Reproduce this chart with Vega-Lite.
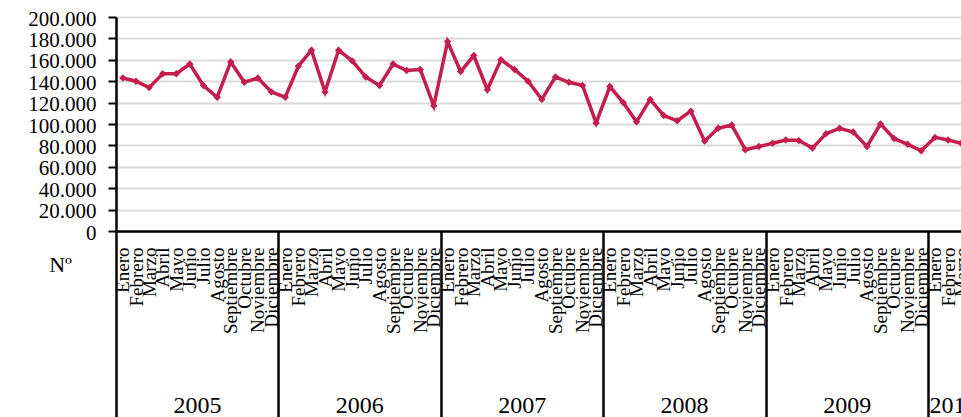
{
  "$schema": "https://vega.github.io/schema/vega-lite/v6.json",
  "width": 845,
  "height": 214,
  "autosize": {"type": "none"},
  "padding": {"left": 116, "top": 17, "right": 0, "bottom": 186},
  "background": "white",
  "config": {
    "view": {"stroke": null},
    "axis": {"labelFont": "Liberation Serif", "titleFont": "Liberation Serif", "labelColor": "#000", "titleColor": "#000"}
  },
  "data": {
    "format": {"parse": {"mes": "utc:'%Y-%m'"}},
    "values": [
      {"mes": "2005-01", "valor": 143000}, {"mes": "2005-02", "valor": 140000}, {"mes": "2005-03", "valor": 134000},
      {"mes": "2005-04", "valor": 147000}, {"mes": "2005-05", "valor": 147000}, {"mes": "2005-06", "valor": 156000},
      {"mes": "2005-07", "valor": 136000}, {"mes": "2005-08", "valor": 125000}, {"mes": "2005-09", "valor": 158000},
      {"mes": "2005-10", "valor": 139000}, {"mes": "2005-11", "valor": 143000}, {"mes": "2005-12", "valor": 130000},
      {"mes": "2006-01", "valor": 125000}, {"mes": "2006-02", "valor": 154000}, {"mes": "2006-03", "valor": 169000},
      {"mes": "2006-04", "valor": 130000}, {"mes": "2006-05", "valor": 169000}, {"mes": "2006-06", "valor": 159000},
      {"mes": "2006-07", "valor": 144000}, {"mes": "2006-08", "valor": 136000}, {"mes": "2006-09", "valor": 156000},
      {"mes": "2006-10", "valor": 150000}, {"mes": "2006-11", "valor": 151000}, {"mes": "2006-12", "valor": 117000},
      {"mes": "2007-01", "valor": 177000}, {"mes": "2007-02", "valor": 149000}, {"mes": "2007-03", "valor": 164000},
      {"mes": "2007-04", "valor": 132000}, {"mes": "2007-05", "valor": 160000}, {"mes": "2007-06", "valor": 151000},
      {"mes": "2007-07", "valor": 140000}, {"mes": "2007-08", "valor": 123000}, {"mes": "2007-09", "valor": 144000},
      {"mes": "2007-10", "valor": 139000}, {"mes": "2007-11", "valor": 136000}, {"mes": "2007-12", "valor": 101000},
      {"mes": "2008-01", "valor": 135000}, {"mes": "2008-02", "valor": 120000}, {"mes": "2008-03", "valor": 102000},
      {"mes": "2008-04", "valor": 123000}, {"mes": "2008-05", "valor": 108000}, {"mes": "2008-06", "valor": 103000},
      {"mes": "2008-07", "valor": 112000}, {"mes": "2008-08", "valor": 84000}, {"mes": "2008-09", "valor": 96000},
      {"mes": "2008-10", "valor": 99000}, {"mes": "2008-11", "valor": 76000}, {"mes": "2008-12", "valor": 79000},
      {"mes": "2009-01", "valor": 82000}, {"mes": "2009-02", "valor": 85000}, {"mes": "2009-03", "valor": 84500},
      {"mes": "2009-04", "valor": 77500}, {"mes": "2009-05", "valor": 91000}, {"mes": "2009-06", "valor": 96000},
      {"mes": "2009-07", "valor": 92500}, {"mes": "2009-08", "valor": 79000}, {"mes": "2009-09", "valor": 100000},
      {"mes": "2009-10", "valor": 86500}, {"mes": "2009-11", "valor": 81000}, {"mes": "2009-12", "valor": 75000},
      {"mes": "2010-01", "valor": 87500}, {"mes": "2010-02", "valor": 85000}, {"mes": "2010-03", "valor": 82000}
    ]
  },
  "layer": [
    {
      "mark": {"type": "line", "color": "#c41e4e", "strokeWidth": 3.5, "clip": true},
      "encoding": {
        "x": {
          "field": "mes", "timeUnit": "utcyearmonth", "type": "temporal", "bandPosition": 0.5,
          "scale": {"type": "utc", "domain": [{"year": 2005, "month": 1, "date": 1, "utc": true}, {"year": 2010, "month": 3, "date": 16, "utc": true}]},
          "axis": {
            "orient": "bottom", "title": null, "grid": false,
            "tickCount": {"interval": "month", "step": 1},
            "ticks": false, "tickSize": 0,
            "labelAngle": -90, "labelAlign": "right", "labelBaseline": "middle",
            "labelOffset": 6.77, "labelPadding": 16, "labelFontSize": 19,
            "labelOverlap": false, "labelFlush": false, "labelBound": false,
            "labelExpr": "['Enero','Febrero','Marzo','Abril','Mayo','Junio','Julio','Agosto','Septiembre','Octubre','Noviembre','Diciembre'][utcmonth(datum.value)]",
            "domain": true, "domainColor": "#000", "domainWidth": 2.5
          }
        },
        "y": {
          "field": "valor", "type": "quantitative",
          "scale": {"domain": [0, 200000]},
          "axis": {
            "title": "Nº", "titleAngle": 0, "titleX": -56, "titleY": 254,
            "titleAlign": "center", "titleBaseline": "alphabetic",
            "titleFontSize": 22, "titleFontWeight": "normal",
            "values": [0, 20000, 40000, 60000, 80000, 100000, 120000, 140000, 160000, 180000, 200000],
            "labelExpr": "replace(format(datum.value, ','), ',', '.')",
            "labelFontSize": 21, "labelPadding": 12, "labelOverlap": false, "labelOffset": 2,
            "tickSize": 8, "tickWidth": 2, "tickColor": "#000",
            "domainColor": "#000", "domainWidth": 2.5,
            "grid": true, "gridColor": "#d9d9d9", "gridWidth": 2
          }
        }
      }
    },
    {
      "mark": {"type": "point", "shape": "diamond", "filled": true, "color": "#c41e4e", "size": 55, "opacity": 1, "clip": true},
      "encoding": {
        "x": {
          "field": "mes", "timeUnit": "utcyearmonth", "type": "temporal", "bandPosition": 0.5,
          "scale": {"type": "utc", "domain": [{"year": 2005, "month": 1, "date": 1, "utc": true}, {"year": 2010, "month": 3, "date": 16, "utc": true}]},
          "axis": {
            "orient": "bottom", "title": null, "grid": false, "domain": false,
            "tickCount": {"interval": "year", "step": 1},
            "ticks": true, "tickSize": 200, "tickWidth": 2.5, "tickColor": "#000",
            "labelExpr": "'' + utcyear(datum.value)",
            "labelFontSize": 24, "labelAngle": 0, "labelAlign": "center", "labelBaseline": "alphabetic",
            "labelPadding": -19,
            "labelOffset": {"condition": {"test": "utcyear(datum.value) == 2010", "value": 25}, "value": 81},
            "labelFlush": false, "labelOverlap": false, "labelBound": false
          }
        },
        "y": {"field": "valor", "type": "quantitative", "scale": {"domain": [0, 200000]}, "axis": null}
      }
    }
  ],
  "resolve": {"axis": {"x": "independent", "y": "independent"}}
}
